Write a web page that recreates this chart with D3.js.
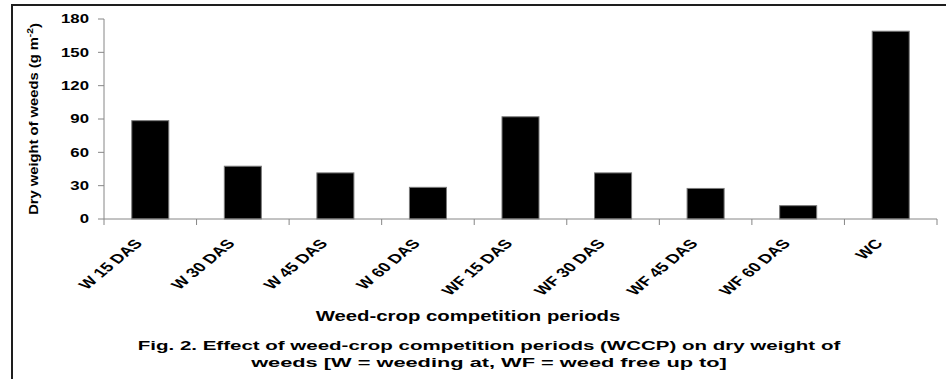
<!DOCTYPE html>
<html>
<head>
<meta charset="utf-8">
<script src="https://cdn.jsdelivr.net/npm/d3@7/dist/d3.min.js"></script>
<style>
  html, body { margin: 0; padding: 0; background: #fff; }
  svg { display: block; }
  text { font-family: Arial, "Liberation Sans", sans-serif; font-weight: bold; fill: #000; }
</style>
</head>
<body>
<svg id="chart" width="946" height="379"></svg>
<script>
// Dry weight of weeds (g m-2) under each weed-crop competition period
const categories = ["W 15 DAS", "W 30 DAS", "W 45 DAS", "W 60 DAS",
                    "WF 15 DAS", "WF 30 DAS", "WF 45 DAS", "WF 60 DAS", "WC"];
const dryWeight = [88.5, 47.5, 41.5, 28.5, 92, 41.5, 27.5, 12, 169];
const yTicks = [0, 30, 60, 90, 120, 150, 180];

const xTitle = "Weed-crop competition periods";
const captionLines = [
  "Fig. 2. Effect of weed-crop competition periods (WCCP) on dry weight of",
  "weeds  [W = weeding at, WF = weed free up to]"
];

const svg = d3.select("#chart");
const W = 946, H = 379;
const plot = { left: 104, right: 937, top: 19, bottom: 219 };
const stretch = 1.4;      // horizontal widening of the lettering
const axisColor = "#868686";

svg.append("rect").attr("width", W).attr("height", H).attr("fill", "#fff");

// outer frame (top and left edges)
svg.append("path")
  .attr("d", `M12,${H} V5 H${W}`)
  .attr("fill", "none").attr("stroke", "#1e1e1e").attr("stroke-width", 2);

const x = d3.scaleBand()
  .domain(categories)
  .range([plot.left, plot.right])
  .paddingInner(0.6)
  .paddingOuter(0.3);

const y = d3.scaleLinear().domain([0, 180]).range([plot.bottom, plot.top]);

// bars
svg.append("g").selectAll("rect")
  .data(categories)
  .join("rect")
  .attr("x", d => x(d))
  .attr("y", (d, i) => y(dryWeight[i]))
  .attr("width", x.bandwidth())
  .attr("height", (d, i) => y(0) - y(dryWeight[i]))
  .attr("fill", "#000")
  .attr("stroke", "#7a7a7a")
  .attr("stroke-width", 1);

// y axis
const yAxis = svg.append("g");
yAxis.append("line")
  .attr("x1", plot.left).attr("x2", plot.left)
  .attr("y1", y(0)).attr("y2", y(180))
  .attr("stroke", axisColor);
yAxis.selectAll("line.tick")
  .data(yTicks)
  .join("line")
  .attr("class", "tick")
  .attr("x1", plot.left - 6).attr("x2", plot.left)
  .attr("y1", d => y(d)).attr("y2", d => y(d))
  .attr("stroke", axisColor);
yAxis.selectAll("text")
  .data(yTicks)
  .join("text")
  .attr("transform", d => `translate(${plot.left - 15},${y(d)}) scale(${stretch},1)`)
  .attr("text-anchor", "end")
  .attr("dy", "0.36em")
  .style("font-size", "12px")
  .text(d => d);

// x axis with ticks on band boundaries
const xAxis = svg.append("g");
xAxis.append("line")
  .attr("x1", plot.left).attr("x2", plot.right)
  .attr("y1", y(0)).attr("y2", y(0))
  .attr("stroke", axisColor);
const boundaries = d3.range(categories.length + 1).map(i => plot.left + i * x.step());
xAxis.selectAll("line.tick")
  .data(boundaries)
  .join("line")
  .attr("class", "tick")
  .attr("x1", d => d).attr("x2", d => d)
  .attr("y1", y(0)).attr("y2", y(0) + 6)
  .attr("stroke", axisColor);
xAxis.selectAll("text")
  .data(categories)
  .join("text")
  .attr("transform", d =>
    `translate(${x(d) + x.bandwidth() / 2 - 7},${y(0) + 25}) scale(${stretch},1) rotate(-49)`)
  .attr("text-anchor", "end")
  .style("font-size", "13px")
  .text(d => d);

// y axis title, fitted to its length
const yTitle = svg.append("text")
  .attr("text-anchor", "middle")
  .style("font-size", "13px");
yTitle.append("tspan").text("Dry weight of weeds (g m");
yTitle.append("tspan").attr("dy", "-0.45em").style("font-size", "9px").text("-2");
yTitle.append("tspan").attr("dy", "0.45em").text(")");
{
  const len = yTitle.node().getComputedTextLength();
  const k = 192 / len;
  yTitle.attr("transform", `translate(37.5,119) rotate(-90) scale(${k},1)`);
}

// horizontal titles, each fitted to its width
function fitted(str, cx, baseline, size, width) {
  const t = svg.append("text")
    .attr("text-anchor", "middle")
    .style("font-size", size + "px")
    .text(str);
  const len = t.node().getComputedTextLength();
  t.attr("transform", `translate(${cx},${baseline}) scale(${width / len},1)`);
  return t;
}
fitted(xTitle, 468, 321, 14, 305);
fitted(captionLines[0], 489, 350, 13, 703);
fitted(captionLines[1], 489, 367, 13, 476);
</script>
</body>
</html>
